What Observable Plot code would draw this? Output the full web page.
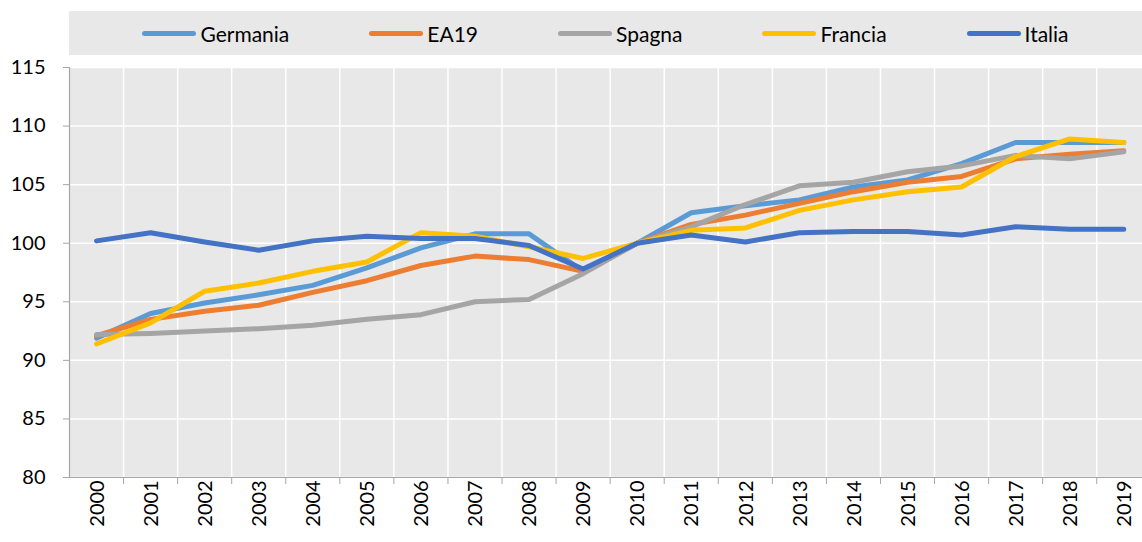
<!DOCTYPE html>
<html>
<head>
<meta charset="utf-8">
<script src="https://cdn.jsdelivr.net/npm/d3@7"></script>
<script src="https://cdn.jsdelivr.net/npm/@observablehq/plot@0.6"></script>
<style>
  html, body { margin: 0; padding: 0; background: white; }
  body { width: 1142px; height: 542px; overflow: hidden; font-family: Lato, "Noto Sans", sans-serif; }
  #legend { position: relative; height: 55px; }
  #legend .box { position: absolute; left: 69px; top: 11px; width: 1073px; height: 44px; background: #e8e8e8;
    display: flex; justify-content: center; align-items: center; gap: 80px; }
  #legend .item { display: flex; align-items: center; gap: 4px; font-size: 21px; color: #000; }
  #legend .sw { width: 54px; height: 5px; border-radius: 3px; }
</style>
</head>
<body>
<div id="legend"><div class="box"></div></div>
<div id="chart"></div>
<script>
const years = [2000, 2001, 2002, 2003, 2004, 2005, 2006, 2007, 2008, 2009,
               2010, 2011, 2012, 2013, 2014, 2015, 2016, 2017, 2018, 2019];
const names = ["Germania", "EA19", "Spagna", "Francia", "Italia"];
const colors = ["#5B9BD5", "#ED7D31", "#A5A5A5", "#FFC000", "#4472C4"];
const germania = [91.9, 94.0, 94.9, 95.6, 96.4, 97.9, 99.6, 100.8, 100.8, 97.6, 100.0, 102.6, 103.2, 103.7, 104.8, 105.4, 106.8, 108.6, 108.6, 108.6];
const ea19     = [92.1, 93.5, 94.2, 94.7, 95.8, 96.8, 98.1, 98.9, 98.6, 97.6, 100.0, 101.6, 102.4, 103.4, 104.4, 105.2, 105.7, 107.2, 107.6, 107.9];
const spagna   = [92.2, 92.3, 92.5, 92.7, 93.0, 93.5, 93.9, 95.0, 95.2, 97.4, 100.0, 101.4, 103.3, 104.9, 105.2, 106.1, 106.6, 107.5, 107.2, 107.8];
const francia  = [91.4, 93.2, 95.9, 96.6, 97.6, 98.4, 100.9, 100.6, 99.7, 98.7, 100.0, 101.1, 101.3, 102.8, 103.7, 104.4, 104.8, 107.4, 108.9, 108.6];
const italia   = [100.2, 100.9, 100.1, 99.4, 100.2, 100.6, 100.4, 100.4, 99.8, 97.8, 100.0, 100.7, 100.1, 100.9, 101.0, 101.0, 100.7, 101.4, 101.2, 101.2];
const yTicks = [80, 85, 90, 95, 100, 105, 110, 115];

const seriesValues = [germania, ea19, spagna, francia, italia];
const data = names.map((n, i) => years.map((yr, j) => ({year: yr, value: seriesValues[i][j], country: n})));
const edges = years.slice(0, -1).map(y => y + 0.5);
const first = years[0] - 0.5, last = years[years.length - 1] + 0.5;

// legend
const box = document.querySelector("#legend .box");
names.forEach((n, i) => {
  const it = document.createElement("div");
  it.className = "item";
  it.innerHTML = `<span class="sw" style="background:${colors[i]}"></span><span>${n}</span>`;
  box.appendChild(it);
});

const chart = Plot.plot({
  width: 1142,
  height: 487,
  marginTop: 12,
  marginBottom: 65,
  marginLeft: 69,
  marginRight: 0,
  style: {fontFamily: "Lato, 'Noto Sans', sans-serif", fontSize: "20px", background: "white", overflow: "visible", color: "black"},
  x: {type: "linear", domain: [first, last], range: [69, 1150.3], label: null},
  y: {domain: [80, 115], ticks: yTicks, label: null},
  color: {domain: names, range: colors},
  marks: [
    Plot.frame({fill: "#e8e8e8", stroke: null}),
    Plot.gridY(yTicks, {stroke: "white", strokeOpacity: 1, strokeWidth: 1.5}),
    Plot.ruleX(edges, {stroke: "white", strokeWidth: 1.5}),
    Plot.ruleX([first], {stroke: "#a6a6a6", strokeWidth: 1.2}),
    Plot.ruleY([80], {stroke: "#a6a6a6", strokeWidth: 1.2}),
    Plot.axisY(yTicks, {tickSize: 6, tickPadding: 18, stroke: "#a6a6a6", fill: "black", fontSize: 20, label: null, tickFormat: d => String(d)}),
    Plot.axisX(edges, {tickSize: 7, tickFormat: () => "", stroke: "#a6a6a6", label: null}),
    Plot.axisX(years, {tickSize: 0, tickPadding: 26, rotate: -90, dx: -7, fontSize: 20, fill: "black", label: null, tickFormat: d => String(d)}),
    ...data.map((d, i) => Plot.line(d, {x: "year", y: "value", stroke: colors[i], strokeWidth: 5, strokeLinecap: "round", strokeLinejoin: "round"}))
  ]
});
document.getElementById("chart").appendChild(chart);
</script>
</body>
</html>
